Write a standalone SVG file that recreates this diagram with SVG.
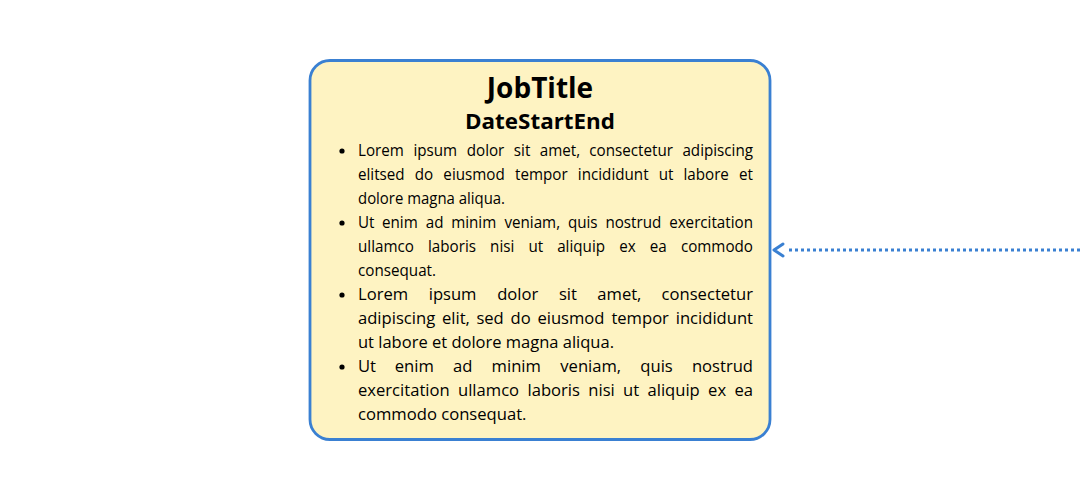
<svg xmlns="http://www.w3.org/2000/svg" width="1080" height="500" viewBox="0 0 1080 500">
<defs>
<style>
.box{fill:#fef3c2;stroke:#3a80d2;stroke-width:2.8}
.t1{font-family:"Open Sans","Noto Sans",sans-serif;font-weight:bold;font-size:28px;fill:#000;text-anchor:middle}
.t2{font-family:"Open Sans","Noto Sans",sans-serif;font-weight:bold;font-size:21px;fill:#000;text-anchor:middle}
.b{font-family:"Open Sans","Noto Sans",sans-serif;font-size:16.6px;fill:#000}
.dot{fill:#000}
.conn{fill:none;stroke:#3a80d2;stroke-width:3}
</style>
</defs>
<rect width="1080" height="500" fill="#fff"/>
<g id="connectors">
<line class="conn" x1="1080" y1="250" x2="786" y2="250" stroke-dasharray="3,3"/>
<polyline class="conn" points="783,244 774,250 783,256" stroke-linecap="round" stroke-linejoin="round"/>
</g>
<g id="job">
<rect class="box" x="310" y="60.5" width="460" height="379" rx="20"/>
<text class="t1" x="540" y="98">JobTitle</text>
<text class="t2" x="540" y="129" textLength="150" lengthAdjust="spacingAndGlyphs">DateStartEnd</text>
<circle class="dot" cx="342" cy="151" r="2.6"/>
<circle class="dot" cx="342" cy="223" r="2.6"/>
<circle class="dot" cx="342" cy="295" r="2.6"/>
<circle class="dot" cx="342" cy="367" r="2.6"/>
<g transform="translate(358,0) scale(0.915,1) translate(-358,0)">
<text class="b" y="156"><tspan x="358">Lorem</tspan><tspan x="418.6">ipsum</tspan><tspan x="476.8">dolor</tspan><tspan x="528.3">sit</tspan><tspan x="556.6">amet,</tspan><tspan x="610.8">consectetur</tspan><tspan x="789.7" text-anchor="end">adipiscing</tspan></text>
<text class="b" y="180"><tspan x="358">elitsed</tspan><tspan x="420">do</tspan><tspan x="451.3">eiusmod</tspan><tspan x="529.6">tempor</tspan><tspan x="598.3">incididunt</tspan><tspan x="686.6">ut</tspan><tspan x="713.7">labore</tspan><tspan x="789.7" text-anchor="end">et</tspan></text>
<text class="b" y="228"><tspan x="358">Ut</tspan><tspan x="384.2">enim</tspan><tspan x="432">ad</tspan><tspan x="459.8">minim</tspan><tspan x="518">veniam,</tspan><tspan x="587.4">quis</tspan><tspan x="628.4">nostrud</tspan><tspan x="789.7" text-anchor="end">exercitation</tspan></text>
<text class="b" y="252"><tspan x="358">ullamco</tspan><tspan x="434.5">laboris</tspan><tspan x="502.4">nisi</tspan><tspan x="544.3">ut</tspan><tspan x="575.7">aliquip</tspan><tspan x="643.4">ex</tspan><tspan x="676.8">ea</tspan><tspan x="789.7" text-anchor="end">commodo</tspan></text>
</g>
<text class="b" x="358" y="204" textLength="147" lengthAdjust="spacingAndGlyphs">dolore magna aliqua.</text>
<text class="b" x="358" y="276" textLength="78" lengthAdjust="spacingAndGlyphs">consequat.</text>
<text class="b" y="300"><tspan x="358">Lorem</tspan><tspan x="428.7">ipsum</tspan><tspan x="497.2">dolor</tspan><tspan x="558.9">sit</tspan><tspan x="597.3">amet,</tspan><tspan x="753" text-anchor="end">consectetur</tspan></text>
<text class="b" y="324"><tspan x="358">adipiscing</tspan><tspan x="442">elit,</tspan><tspan x="476.4">sed</tspan><tspan x="510.5">do</tspan><tspan x="537.4">eiusmod</tspan><tspan x="611.4">tempor</tspan><tspan x="753" text-anchor="end">incididunt</tspan></text>
<text class="b" x="358" y="348" textLength="256" lengthAdjust="spacingAndGlyphs">ut labore et dolore magna aliqua.</text>
<text class="b" y="372"><tspan x="358">Ut</tspan><tspan x="394.8">enim</tspan><tspan x="453.1">ad</tspan><tspan x="491.6">minim</tspan><tspan x="560.3">veniam,</tspan><tspan x="640.3">quis</tspan><tspan x="753" text-anchor="end">nostrud</tspan></text>
<text class="b" y="396"><tspan x="358">exercitation</tspan><tspan x="458">ullamco</tspan><tspan x="527.5">laboris</tspan><tspan x="588.3">nisi</tspan><tspan x="623.1">ut</tspan><tspan x="647.5">aliquip</tspan><tspan x="708.1">ex</tspan><tspan x="753" text-anchor="end">ea</tspan></text>
<text class="b" x="358" y="420" textLength="168.5" lengthAdjust="spacingAndGlyphs">commodo consequat.</text>
</g>
</svg>
